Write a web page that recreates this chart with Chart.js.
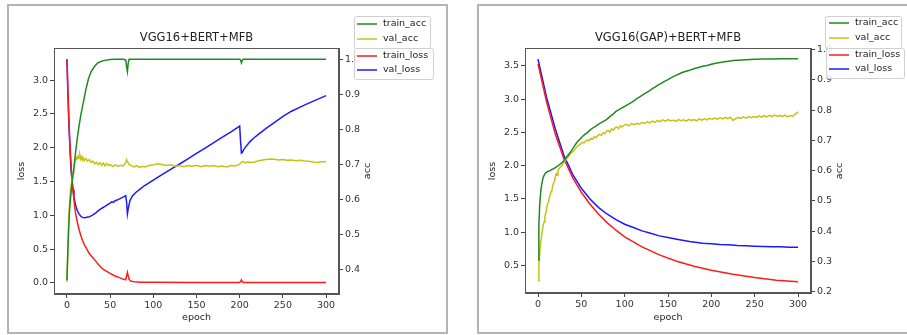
<!DOCTYPE html>
<html>
<head>
<meta charset="utf-8">
<script src="https://cdn.jsdelivr.net/npm/chart.js@4"></script>
<style>
  body { margin: 0; background: #fff; width: 907px; height: 335px; overflow: hidden; position: relative; }
  .frame { position: absolute; border: 2px solid #b4b4b4; box-sizing: border-box; }
  canvas { position: absolute; top: 0; }
</style>
</head>
<body>
<div class="frame" style="left:7px;top:4px;width:441px;height:330px"></div>
<div class="frame" style="left:477px;top:4px;width:440px;height:330px"></div>
<canvas id="leftChart" width="460" height="335" style="left:0"></canvas>
<canvas id="rightChart" width="447" height="335" style="left:460px"></canvas>
<script>
// ---- tick labels ----
const xTicks = [0, 50, 100, 150, 200, 250, 300];
const lossTicksL = [0, 0.5, 1.0, 1.5, 2.0, 2.5, 3.0];
const accTicksL = [0.4, 0.5, 0.6, 0.7, 0.8, 0.9, 1.0];
const lossTicksR = [0.5, 1.0, 1.5, 2.0, 2.5, 3.0, 3.5];
const accTicksR = [0.2, 0.3, 0.4, 0.5, 0.6, 0.7, 0.8, 0.9, 1.0];

// ---- VGG16+BERT+MFB (left) ----
const L_trainAccEp = [0,1,2,3,4,5,6,8,10,12,14,16,18,20,22,25,28,32,36,42,50,55,60,65,68,69,70,71,72,75,80,100,150,200,201,202,203,204,210,250,300];
const L_trainAcc = [0.37,0.45,0.52,0.57,0.60,0.625,0.65,0.69,0.735,0.775,0.81,0.84,0.865,0.89,0.915,0.945,0.965,0.98,0.99,0.996,0.999,1.0,1.0,1.0,0.998,0.98,0.965,0.99,1.0,1.0,1.0,1.0,1.0,1.0,0.998,0.99,0.997,1.0,1.0,1.0,1.0];

const L_valAccEp = [0,1,2,3,4,5,6,7,8,9,10,11,12,13,14,15,16,17,18,19,20,22,24,26,28,30,32,34,36,38,40,42,44,46,48,50,53,56,59,62,65,68,69,70,72,75,78,81,84,87,90,95,100,105,110,115,120,125,130,135,140,145,150,155,160,165,170,175,180,185,190,195,200,203,206,210,215,220,225,230,235,240,245,250,255,260,265,270,275,280,285,290,295,300];
const L_valAcc = [0.365,0.46,0.53,0.59,0.625,0.645,0.655,0.675,0.69,0.705,0.712,0.72,0.716,0.724,0.718,0.726,0.715,0.722,0.713,0.719,0.711,0.717,0.709,0.714,0.706,0.71,0.702,0.707,0.7,0.705,0.698,0.704,0.696,0.703,0.697,0.7,0.694,0.699,0.695,0.698,0.696,0.705,0.714,0.708,0.7,0.696,0.693,0.697,0.691,0.695,0.693,0.697,0.699,0.702,0.7,0.697,0.699,0.695,0.697,0.694,0.697,0.695,0.698,0.694,0.697,0.695,0.697,0.694,0.696,0.693,0.697,0.696,0.701,0.709,0.705,0.707,0.706,0.709,0.712,0.714,0.716,0.715,0.713,0.714,0.712,0.713,0.711,0.712,0.71,0.709,0.707,0.706,0.708,0.708];

const L_trainLossEp = [0,1,2,3,4,5,6,7,8,9,10,12,14,16,18,20,23,26,30,34,38,42,46,50,55,60,65,68,69,70,71,72,74,78,85,100,150,200,201,202,203,204,250,300];
const L_trainLoss = [3.31,2.9,2.5,2.18,1.92,1.7,1.52,1.37,1.24,1.12,1.03,0.9,0.79,0.7,0.63,0.57,0.5,0.43,0.37,0.31,0.25,0.2,0.17,0.14,0.105,0.08,0.055,0.045,0.1,0.155,0.1,0.05,0.025,0.015,0.01,0.007,0.005,0.004,0.02,0.045,0.02,0.005,0.004,0.003];

const L_valLossEp = [0,1,2,3,4,5,6,7,8,10,12,14,16,18,20,22,24,26,28,30,33,36,40,44,48,50,52,54,55,58,62,66,68,69,70,71,72,73,76,80,85,90,100,110,120,130,140,150,160,170,180,190,199,200,201,202,203,205,208,212,216,222,231,240,251,260,270,280,290,300];
const L_valLoss = [3.31,2.85,2.45,2.12,1.85,1.63,1.5,1.38,1.28,1.15,1.07,1.02,0.985,0.968,0.962,0.965,0.975,0.978,0.99,1.005,1.03,1.065,1.1,1.13,1.165,1.18,1.2,1.19,1.21,1.225,1.25,1.275,1.29,1.2,1.02,1.1,1.16,1.22,1.29,1.34,1.39,1.44,1.52,1.6,1.68,1.755,1.835,1.915,1.995,2.075,2.155,2.235,2.31,2.32,2.1,1.92,1.93,1.98,2.03,2.09,2.14,2.2,2.29,2.37,2.47,2.54,2.6,2.66,2.715,2.77];

// ---- VGG16(GAP)+BERT+MFB (right) ----
const R_trainAccEp = [0,1,2,3,4,5,6,8,10,12,14,16,18,20,22,24,26,28,30,33,36,39,42,45,48,51,54,57,60,63,66,69,72,75,78,81,84,87,90,93,96,99,102,105,108,111,114,117,120,123,126,129,132,135,138,141,144,147,150,153,156,159,162,165,168,171,174,177,180,185,190,195,200,205,210,215,220,225,230,240,250,260,270,280,290,300];
const R_trainAcc = [0.305,0.42,0.49,0.525,0.55,0.565,0.578,0.59,0.595,0.598,0.6,0.604,0.607,0.61,0.614,0.618,0.623,0.628,0.634,0.645,0.656,0.668,0.681,0.694,0.703,0.712,0.72,0.726,0.734,0.741,0.746,0.752,0.757,0.762,0.767,0.774,0.781,0.788,0.796,0.801,0.806,0.811,0.816,0.821,0.826,0.832,0.838,0.843,0.849,0.855,0.86,0.865,0.871,0.876,0.882,0.887,0.892,0.897,0.901,0.906,0.911,0.915,0.919,0.923,0.926,0.929,0.931,0.934,0.937,0.941,0.945,0.948,0.952,0.955,0.958,0.96,0.962,0.964,0.965,0.967,0.968,0.969,0.969,0.97,0.97,0.97];

const R_valAccEp = [0,1,2,3,4,5,6,7,8,9,10,11,12,13,14,15,16,17,18,19,20,21,22,23,24,25,27,29,31,33,35,37,39,41,43,45,47,49,51,53,55,57,59,61,63,65,67,69,71,73,75,77,79,81,83,85,87,89,91,93,95,97,99,102,105,108,111,114,117,120,123,126,129,132,135,138,141,144,147,150,153,156,159,162,165,168,171,174,177,180,183,186,189,192,195,198,201,204,207,210,213,216,219,222,225,228,231,234,237,240,243,246,249,252,255,258,261,264,267,270,273,276,279,282,285,288,291,294,297,299,300];
const R_valAcc = [0.235,0.29,0.33,0.36,0.38,0.4,0.42,0.43,0.45,0.46,0.475,0.49,0.495,0.51,0.52,0.53,0.535,0.55,0.56,0.565,0.58,0.59,0.585,0.6,0.605,0.61,0.615,0.625,0.63,0.64,0.645,0.655,0.66,0.665,0.672,0.68,0.684,0.688,0.694,0.692,0.698,0.702,0.699,0.707,0.704,0.712,0.709,0.716,0.72,0.717,0.725,0.722,0.73,0.733,0.728,0.738,0.734,0.742,0.745,0.739,0.748,0.744,0.75,0.753,0.748,0.756,0.752,0.757,0.754,0.76,0.756,0.762,0.758,0.764,0.76,0.766,0.762,0.768,0.764,0.769,0.765,0.767,0.763,0.769,0.765,0.768,0.764,0.77,0.766,0.769,0.765,0.771,0.767,0.772,0.768,0.773,0.77,0.774,0.77,0.775,0.771,0.776,0.772,0.777,0.766,0.772,0.776,0.773,0.778,0.774,0.779,0.775,0.779,0.776,0.781,0.777,0.782,0.778,0.783,0.779,0.784,0.78,0.783,0.779,0.784,0.778,0.782,0.78,0.787,0.792,0.795];

const R_trainLossEp = [0,10,20,30,40,50,60,70,80,90,100,120,140,160,180,200,225,250,275,300];
const R_trainLoss = [3.53,2.95,2.47,2.1,1.82,1.6,1.42,1.27,1.14,1.03,0.93,0.78,0.66,0.565,0.49,0.43,0.37,0.32,0.28,0.255];

const R_valLossEp = [0,10,20,30,40,50,60,70,80,90,100,110,120,130,140,150,160,175,190,200,210,220,230,240,250,260,270,280,290,300];
const R_valLoss = [3.6,3.02,2.55,2.15,1.87,1.66,1.5,1.37,1.27,1.19,1.12,1.07,1.02,0.985,0.945,0.92,0.895,0.86,0.835,0.826,0.815,0.81,0.8,0.796,0.79,0.786,0.78,0.782,0.776,0.775];

const FONT = "'DejaVu Sans', sans-serif";
const COLORS = { trainAcc: '#1f8a1f', valAcc: '#c4c410', trainLoss: '#ff1a1a', valLoss: '#1a1aff' };

function pts(ep, vals) {
    return ep.map((e, i) => ({ x: e, y: vals[i] }));
}

function line(label, data, color, axis) {
    return { label: label, data: data, borderColor: color, borderWidth: 1.5,
             pointRadius: 0, tension: 0, fill: false, yAxisID: axis, xAxisID: 'x' };
}

function axisStyle(ticks, fmt) {
    return {
        grid: { display: true, drawOnChartArea: false, drawTicks: true, tickLength: 4, tickColor: '#444' },
        border: { display: true, color: '#555', width: 1 },
        ticks: { font: { family: FONT, size: 9.5 }, color: '#333', padding: 2, autoSkip: false,
                 maxRotation: 0, callback: fmt },
        afterBuildTicks: s => { s.ticks = ticks.map(v => ({ value: v })); }
    };
}

// frame, title, axis labels and the two legend boxes (drawn over ticks like matplotlib)
const extras = {
    id: 'extras',
    afterDraw(chart, args, o) {
        const c = chart.ctx, a = chart.chartArea;
        c.save();
        c.strokeStyle = '#555';
        c.lineWidth = 1;
        c.strokeRect(a.left + 0.5, a.top + 0.5, a.right - a.left - 1, a.bottom - a.top - 1);

        c.fillStyle = '#222';
        c.textAlign = 'center';
        c.textBaseline = 'middle';
        c.font = '11.5px ' + FONT;
        c.fillText(o.title, (a.left + a.right) / 2, 38);
        c.font = '9.5px ' + FONT;
        c.fillText('epoch', (a.left + a.right) / 2, 318);
        [[o.lossX, 'loss'], [o.accX, 'acc']].forEach(([x, t]) => {
            c.save();
            c.translate(x, 171);
            c.rotate(-Math.PI / 2);
            c.fillText(t, 0, 0);
            c.restore();
        });

        o.boxes.forEach(b => {
            c.fillStyle = 'rgba(255,255,255,0.85)';
            c.strokeStyle = '#d0d0d0';
            c.beginPath();
            c.roundRect(b.x + 0.5, b.y + 0.5, b.w, b.h, 2);
            c.fill();
            c.stroke();
            b.rows.forEach(r => {
                c.strokeStyle = r[1];
                c.lineWidth = 1.5;
                c.beginPath();
                c.moveTo(o.lineX, r[2]);
                c.lineTo(o.lineX + 20, r[2]);
                c.stroke();
                c.fillStyle = '#222';
                c.textAlign = 'left';
                c.fillText(r[0], o.lineX + 26, r[2]);
            });
            c.lineWidth = 1;
        });
        c.restore();
    }
};

function makeChart(id, sets, lossT, accT, lossRange, accRange, lossW, padRight, padBottom, extra) {
    const ctx = document.getElementById(id).getContext('2d');
    const fmt1 = v => v.toFixed(1);
    return new Chart(ctx, {
        type: 'line',
        data: { datasets: sets },
        options: {
            responsive: false,
            animation: false,
            layout: { padding: { left: 0, right: padRight, top: 48, bottom: padBottom } },
            plugins: { legend: { display: false }, tooltip: { enabled: false }, extras: extra },
            scales: {
                x: Object.assign(axisStyle(xTicks, v => String(v)), { type: 'linear', min: -15, max: 315,
                    afterFit: s => { s.height = 30; } }),
                loss: Object.assign(axisStyle(lossT, fmt1), { type: 'linear', position: 'left',
                    min: lossRange[0], max: lossRange[1], afterFit: s => { s.width = lossW; } }),
                acc: Object.assign(axisStyle(accT, fmt1), { type: 'linear', position: 'right',
                    min: accRange[0], max: accRange[1], afterFit: s => { s.width = 40; } })
            }
        },
        plugins: [extras]
    });
}

document.addEventListener("DOMContentLoaded", function () {
    makeChart('leftChart', [
        line('train_acc', pts(L_trainAccEp, L_trainAcc), COLORS.trainAcc, 'acc'),
        line('val_acc', pts(L_valAccEp, L_valAcc), COLORS.valAcc, 'acc'),
        line('train_loss', pts(L_trainLossEp, L_trainLoss), COLORS.trainLoss, 'loss'),
        line('val_loss', pts(L_valLossEp, L_valLoss), COLORS.valLoss, 'loss')
    ], lossTicksL, accTicksL, [-0.1655, 3.4755], [0.331, 1.032], 54, 81, 11, {
        title: 'VGG16+BERT+MFB', lossX: 22, accX: 368, lineX: 357,
        boxes: [
            { x: 354, y: 16, w: 76, h: 32, rows: [['train_acc', COLORS.trainAcc, 24], ['val_acc', COLORS.valAcc, 39]] },
            { x: 354, y: 48, w: 79, h: 31, rows: [['train_loss', COLORS.trainLoss, 56], ['val_loss', COLORS.valLoss, 70]] }
        ]
    });

    makeChart('rightChart', [
        line('train_acc', pts(R_trainAccEp, R_trainAcc), COLORS.trainAcc, 'acc'),
        line('val_acc', pts(R_valAccEp, R_valAcc), COLORS.valAcc, 'acc'),
        line('train_loss', pts(R_trainLossEp, R_trainLoss), COLORS.trainLoss, 'loss'),
        line('val_loss', pts(R_valLossEp, R_valLoss), COLORS.valLoss, 'loss')
    ], lossTicksR, accTicksR, [0.087, 3.767], [0.1957, 1.0056], 65, 56, 12, {
        title: 'VGG16(GAP)+BERT+MFB', lossX: 33, accX: 380, lineX: 369,
        boxes: [
            { x: 365, y: 16, w: 76, h: 32, rows: [['train_acc', COLORS.trainAcc, 23], ['val_acc', COLORS.valAcc, 38]] },
            { x: 366, y: 48, w: 78, h: 30, rows: [['train_loss', COLORS.trainLoss, 55], ['val_loss', COLORS.valLoss, 69]] }
        ]
    });
});
</script>
</body>
</html>
